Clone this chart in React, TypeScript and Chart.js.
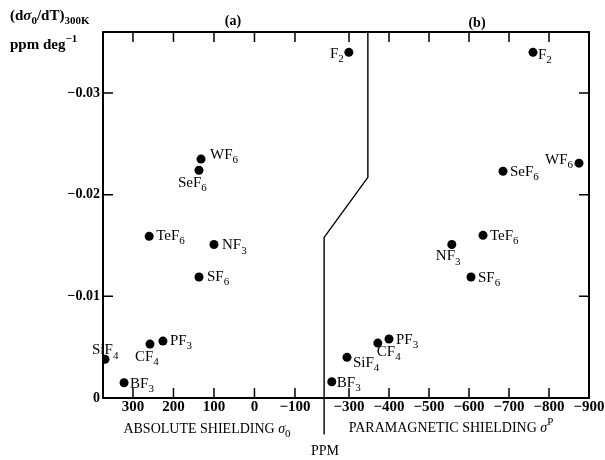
import React, { useEffect, useRef } from "react";
import { Chart, registerables } from "chart.js";
Chart.register(...registerables);

// ---- data ----
const molecules = ["F2", "WF6", "SeF6", "TeF6", "NF3", "SF6", "SiF4", "CF4", "PF3", "BF3"];
// panel (a): absolute shielding sigma0 (ppm)
const absoluteShielding = [-233, 132, 137, 260, 100, 137, 369, 258, 226, 322];
const tempCoeffA = [-0.034, -0.0235, -0.0224, -0.0159, -0.0151, -0.0119, -0.0038, -0.0053, -0.0056, -0.0015];
// panel (b): paramagnetic shielding sigmaP (ppm)
const paramagneticShielding = [-760, -875, -685, -635, -557, -605, -295, -372, -400, -257];
const tempCoeffB = [-0.034, -0.0231, -0.0223, -0.016, -0.0151, -0.0119, -0.004, -0.0054, -0.0058, -0.0016];
// tick labels
const absTicks = [300, 200, 100, 0, -100];
const paraTicks = [-300, -400, -500, -600, -700, -800, -900];
const yTicks = [-0.03, -0.02, -0.01, 0];
// separator between the two panels (in sigma0 units / y units)
const dividerX = [-280, -280, -172, -172];
const dividerY = [-0.036, -0.0217, -0.0158, 0.0036];

// ---- axis ranges ----
const X_L = { min: -826, max: 374 };
const X_R = { min: -900, max: 315 };
const Y_R = { min: -0.036, max: 0 };

function paraToAbs(r: number) {
  const f = (X_R.max - r) / (X_R.max - X_R.min);
  return X_L.max - f * (X_L.max - X_L.min);
}
function fmt(v: number) {
  return v < 0 ? "\u2212" + String(Math.abs(v)) : String(v);
}

// label placement for each point (align, dx, dy)
type Place = { a: "left" | "right" | "center"; dx: number; dy: number };
const placeA: Place[] = [
  { a: "right", dx: -5, dy: 2 },
  { a: "left", dx: 9, dy: -4 },
  { a: "left", dx: -21, dy: 13 },
  { a: "left", dx: 7, dy: 0 },
  { a: "left", dx: 8, dy: 1 },
  { a: "left", dx: 8, dy: 0 },
  { a: "left", dx: -13, dy: -9 },
  { a: "left", dx: -15, dy: 13 },
  { a: "left", dx: 7, dy: 0 },
  { a: "left", dx: 6, dy: 1 },
];
const placeB: Place[] = [
  { a: "left", dx: 5, dy: 3 },
  { a: "right", dx: -6, dy: -3 },
  { a: "left", dx: 7, dy: 1 },
  { a: "left", dx: 7, dy: 1 },
  { a: "left", dx: -16, dy: 12 },
  { a: "left", dx: 7, dy: 1 },
  { a: "left", dx: 6, dy: 6 },
  { a: "left", dx: -1, dy: 9 },
  { a: "left", dx: 7, dy: 1 },
  { a: "left", dx: 5, dy: 1 },
];

const FAMILY = "'Liberation Serif', 'DejaVu Serif', serif";

type Seg = { t: string; k: "n" | "sub" | "sup" | "it" };

function segWidth(ctx: CanvasRenderingContext2D, s: Seg, size: number, weight: string) {
  const sz = s.k === "sub" || s.k === "sup" ? Math.round(size * 0.75) : size;
  ctx.font = `${s.k === "it" ? "italic " : ""}${weight} ${sz}px ${FAMILY}`;
  return ctx.measureText(s.t).width;
}

function drawSegs(
  ctx: CanvasRenderingContext2D,
  segs: Seg[],
  x: number,
  y: number,
  align: "left" | "right" | "center",
  size: number,
  weight = "normal"
) {
  let total = 0;
  for (const s of segs) total += segWidth(ctx, s, size, weight);
  let cx = align === "left" ? x : align === "right" ? x - total : x - total / 2;
  ctx.textAlign = "left";
  ctx.textBaseline = "middle";
  ctx.fillStyle = "#000";
  for (const s of segs) {
    const w = segWidth(ctx, s, size, weight);
    const off = s.k === "sub" ? size * 0.35 : s.k === "sup" ? -size * 0.4 : 0;
    ctx.fillText(s.t, cx, y + off);
    cx += w;
  }
}

function formulaSegs(f: string): Seg[] {
  const out: Seg[] = [];
  const re = /(\d+|[^\d]+)/g;
  let m;
  while ((m = re.exec(f))) out.push({ t: m[0], k: /\d/.test(m[0]) ? "sub" : "n" });
  return out;
}

const decorPlugin = {
  id: "decor",
  afterDraw(chart: any) {
    const { ctx, chartArea: a, scales } = chart;
    ctx.save();
    // frame
    ctx.strokeStyle = "#000";
    ctx.lineWidth = 2;
    ctx.strokeRect(a.left, a.top, a.right - a.left, a.bottom - a.top);
    // inward ticks
    ctx.lineWidth = 1.5;
    const TL = 10;
    ctx.beginPath();
    for (const t of scales.x.ticks) {
      const px = scales.x.getPixelForValue(t.value);
      ctx.moveTo(px, a.bottom);
      ctx.lineTo(px, a.bottom - TL);
      ctx.moveTo(px, a.top);
      ctx.lineTo(px, a.top + TL);
    }
    for (const t of scales.y.ticks) {
      const py = scales.y.getPixelForValue(t.value);
      ctx.moveTo(a.left, py);
      ctx.lineTo(a.left + TL, py);
      ctx.moveTo(a.right, py);
      ctx.lineTo(a.right - TL, py);
    }
    ctx.stroke();

    // point labels
    const fs = 15;
    [
      { idx: 0, place: placeA },
      { idx: 1, place: placeB },
    ].forEach(({ idx, place }) => {
      const meta = chart.getDatasetMeta(idx);
      meta.data.forEach((el: any, i: number) => {
        const p = place[i];
        drawSegs(ctx, formulaSegs(molecules[i]), el.x + p.dx, el.y + p.dy, p.a, fs);
      });
    });

    // titles
    drawSegs(
      ctx,
      [
        { t: "(d", k: "n" },
        { t: "\u03C3", k: "it" },
        { t: "0", k: "sub" },
        { t: "/dT)", k: "n" },
        { t: "300K", k: "sub" },
      ],
      10,
      16,
      "left",
      15,
      "bold"
    );
    drawSegs(ctx, [{ t: "ppm deg", k: "n" }, { t: "\u22121", k: "sup" }], 10, 45, "left", 15, "bold");
    drawSegs(ctx, [{ t: "(a)", k: "n" }], 233, 21, "center", 14, "bold");
    drawSegs(ctx, [{ t: "(b)", k: "n" }], 477, 23, "center", 14, "bold");
    drawSegs(
      ctx,
      [
        { t: "ABSOLUTE SHIELDING ", k: "n" },
        { t: "\u03C3", k: "it" },
        { t: "0", k: "sub" },
      ],
      207,
      429,
      "center",
      14
    );
    drawSegs(
      ctx,
      [
        { t: "PARAMAGNETIC SHIELDING ", k: "n" },
        { t: "\u03C3", k: "it" },
        { t: "P", k: "sup" },
      ],
      451,
      428,
      "center",
      14
    );
    drawSegs(ctx, [{ t: "PPM", k: "n" }], 325, 451, "center", 14);
    ctx.restore();
  },
};

export default function App() {
  const ref = useRef<HTMLCanvasElement | null>(null);
  useEffect(() => {
    if (!ref.current) return;
    const chart = new Chart(ref.current, {
      type: "scatter",
      data: {
        datasets: [
          {
            label: "(a)",
            data: absoluteShielding.map((x, i) => ({ x, y: tempCoeffA[i] })),
            xAxisID: "x",
            yAxisID: "y",
            pointRadius: 4.5,
            pointBackgroundColor: "#000",
            pointBorderWidth: 0,
          },
          {
            label: "(b)",
            data: paramagneticShielding.map((x, i) => ({ x, y: tempCoeffB[i] })),
            xAxisID: "xR",
            yAxisID: "y",
            pointRadius: 4.5,
            pointBackgroundColor: "#000",
            pointBorderWidth: 0,
          },
          {
            type: "line",
            label: "divider",
            data: dividerX.map((x, i) => ({ x, y: dividerY[i] })),
            xAxisID: "x",
            yAxisID: "y",
            showLine: true,
            pointRadius: 0,
            borderColor: "#000",
            borderWidth: 1.4,
            fill: false,
            clip: false,
          } as any,
        ],
      },
      options: {
        animation: false,
        responsive: false,
        events: [],
        layout: { padding: { top: 32, right: 16, left: 0, bottom: 0 } },
        plugins: { legend: { display: false }, tooltip: { enabled: false } },
        scales: {
          x: {
            type: "linear",
            position: "bottom",
            min: X_L.min,
            max: X_L.max,
            reverse: true,
            grid: { display: false, drawTicks: false },
            border: { display: false },
            afterBuildTicks: (scale: any) => {
              scale.ticks = [
                ...absTicks.map((v) => ({ value: v })),
                ...paraTicks.map((r) => ({ value: paraToAbs(r) })),
              ];
            },
            afterFit: (scale: any) => {
              scale.height = 62;
            },
            ticks: {
              autoSkip: false,
              maxRotation: 0,
              minRotation: 0,
              padding: 0,
              color: "#000",
              font: { family: FAMILY, size: 15, weight: "bold" },
              callback: (_v: any, i: number) =>
                i < absTicks.length ? fmt(absTicks[i]) : fmt(paraTicks[i - absTicks.length]),
            },
          },
          xR: {
            type: "linear",
            display: false,
            min: X_R.min,
            max: X_R.max,
            reverse: true,
          },
          y: {
            type: "linear",
            position: "left",
            min: Y_R.min,
            max: Y_R.max,
            reverse: true,
            grid: { display: false, drawTicks: false },
            border: { display: false },
            afterBuildTicks: (scale: any) => {
              scale.ticks = yTicks.map((v) => ({ value: v }));
            },
            afterFit: (scale: any) => {
              scale.width = 103;
            },
            ticks: {
              padding: 3,
              color: "#000",
              font: { family: FAMILY, size: 14, weight: "bold" },
              callback: (v: any) => fmt(Number(v)),
            },
          },
        },
      },
      plugins: [decorPlugin],
    });
    return () => chart.destroy();
  }, []);
  return (
    <div style={{ position: "absolute", left: 0, top: 0, width: 605, height: 460, background: "#fff" }}>
      <canvas ref={ref} width={605} height={460} style={{ display: "block" }} />
    </div>
  );
}
